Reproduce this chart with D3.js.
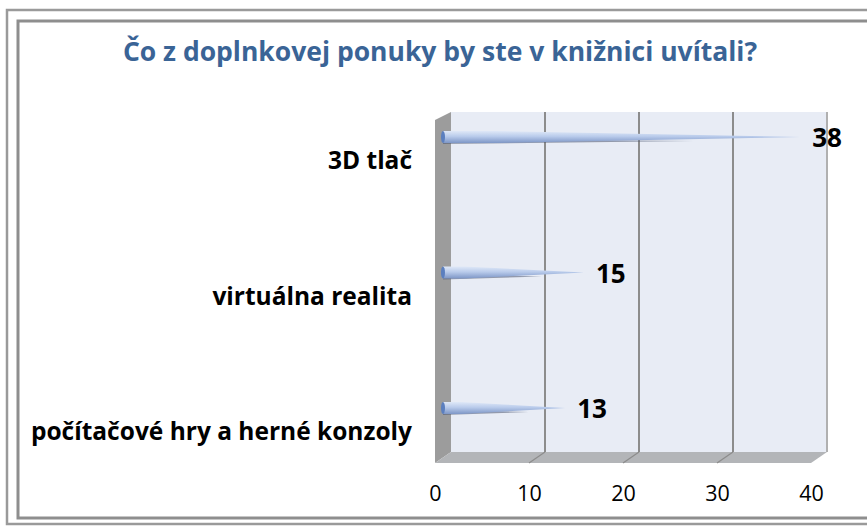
<!DOCTYPE html>
<html>
<head>
<meta charset="utf-8">
<script src="https://cdn.jsdelivr.net/npm/d3@7"></script>
<style>
  body { margin: 0; background: #fff; }
  svg text { font-family: "Open Sans", "Noto Sans", sans-serif; }
</style>
</head>
<body>
<div id="chart"></div>
<script>
// data
let categories = ["3D tlač", "virtuálna realita", "počítačové hry a herné konzoly"];
let values = [38, 15, 13];
let ticks = [0, 10, 20, 30, 40];
let title = "Čo z doplnkovej ponuky by ste v knižnici uvítali?";

let width = 867;
let height = 527;

let svg = d3.select("#chart").append("svg")
    .attr("width", width)
    .attr("height", height);

let defs = svg.append("defs");
let grad = defs.append("linearGradient")
    .attr("id", "barGrad")
    .attr("x1", 0).attr("y1", 0).attr("x2", 0).attr("y2", 1);
grad.append("stop").attr("offset", "0%").attr("stop-color", "#dfe8f7");
grad.append("stop").attr("offset", "45%").attr("stop-color", "#b9cbeb");
grad.append("stop").attr("offset", "100%").attr("stop-color", "#7d96c6");

// frame (double border)
svg.append("rect")
    .attr("x", 7).attr("y", 10)
    .attr("width", 900).attr("height", 514)
    .attr("fill", "none")
    .attr("stroke", "#9a9a9a")
    .attr("stroke-width", 2.5);
svg.append("rect")
    .attr("x", 18).attr("y", 21)
    .attr("width", 900).attr("height", 497)
    .attr("fill", "#fff")
    .attr("stroke", "#8e8e8e")
    .attr("stroke-width", 3);

// title
svg.append("text")
    .attr("x", 440).attr("y", 61)
    .attr("text-anchor", "middle")
    .style("font-size", "26.5px")
    .style("font-weight", "bold")
    .style("fill", "#3a6496")
    .text(title);

// 3d geometry: back wall scale and a front offset
let depthX = 16, depthY = 11;
let x = d3.scaleLinear().domain([0, 40]).range([451, 827]);
let wallTop = 112, wallBottom = 452;

// back wall
svg.append("rect")
    .attr("x", x(0)).attr("y", wallTop)
    .attr("width", x(40) - x(0)).attr("height", wallBottom - wallTop)
    .attr("fill", "#e8ecf5");

// left side wall
svg.append("path")
    .attr("d", d3.line()([
        [x(0) - depthX, wallTop + 8],
        [x(0), wallTop],
        [x(0), wallBottom],
        [x(0) - depthX, wallBottom + depthY]
    ]) + "Z")
    .attr("fill", "#9c9c9c");

// floor
svg.append("path")
    .attr("d", d3.line()([
        [x(0) - depthX, wallBottom + depthY],
        [x(0), wallBottom],
        [x(40), wallBottom],
        [x(40) - depthX, wallBottom + depthY]
    ]) + "Z")
    .attr("fill", "#b3b5b8");

// gridlines on wall and floor
svg.selectAll(".grid")
    .data(ticks.slice(1))
    .join("line")
    .attr("class", "grid")
    .attr("x1", d => x(d)).attr("x2", d => x(d))
    .attr("y1", wallTop).attr("y2", wallBottom)
    .attr("stroke", d => d === 40 ? "#b0b0b0" : "#8c8c8c")
    .attr("stroke-width", 2);
svg.selectAll(".floorline")
    .data(ticks.slice(1, 4))
    .join("line")
    .attr("class", "floorline")
    .attr("x1", d => x(d)).attr("x2", d => x(d) - depthX)
    .attr("y1", wallBottom).attr("y2", wallBottom + depthY)
    .attr("stroke", "#8c8c8c")
    .attr("stroke-width", 1.2);

// axis labels (front plane)
let xFront = d3.scaleLinear().domain([0, 40]).range([x(0) - depthX, x(40) - depthX]);
let axis = d3.axisBottom(xFront).tickValues(ticks).tickSize(0).tickPadding(0);
let axisG = svg.append("g")
    .attr("transform", "translate(0,486)")
    .call(axis);
axisG.select(".domain").remove();
axisG.selectAll("text")
    .style("font-size", "21.5px")
    .style("fill", "#000");

// category positions
let y = d3.scalePoint().domain(categories).range([137, 408]);
let xBar = d3.scaleLinear().domain([0, 40]).range([x(0) - depthX / 2, x(40) - depthX / 2]);

let bars = svg.selectAll(".bar")
    .data(categories)
    .join("g")
    .attr("class", "bar");

// shadow under the cone
bars.append("path")
    .attr("d", (d, i) => {
        let x0 = xBar(0), x1 = xBar(values[i]);
        let cy = y(d);
        return d3.line()([
            [x0, cy + 2], [x0 + (x1 - x0) * 0.7, cy + 4], [x0, cy + 7]
        ]) + "Z";
    })
    .attr("fill", "#4a5670")
    .attr("opacity", 0.55);

// cone
bars.append("path")
    .attr("d", (d, i) => {
        let x0 = xBar(0), x1 = xBar(values[i]);
        let cy = y(d);
        let w = x1 - x0;
        return d3.line()([
            [x0, cy - 6],
            [x0 + w * 0.15, cy - 6],
            [x0 + w * 0.5, cy - 3.5],
            [x1, cy],
            [x0 + w * 0.5, cy + 3.5],
            [x0 + w * 0.15, cy + 6],
            [x0, cy + 6]
        ]) + "Z";
    })
    .attr("fill", "url(#barGrad)");

// base of the cone
bars.append("ellipse")
    .attr("cx", xBar(0))
    .attr("cy", d => y(d))
    .attr("rx", 2).attr("ry", 6)
    .attr("fill", "#5b7fbf");

// value labels
bars.append("text")
    .attr("x", (d, i) => xBar(values[i]) + 12)
    .attr("y", d => y(d) + 10)
    .style("font-size", "26px")
    .style("font-weight", "bold")
    .style("fill", "#000")
    .text((d, i) => values[i]);

// category labels
svg.selectAll(".cat")
    .data(categories)
    .join("text")
    .attr("class", "cat")
    .attr("x", 412)
    .attr("y", d => y(d) + 32)
    .attr("text-anchor", "end")
    .style("font-size", "24.5px")
    .style("font-weight", "bold")
    .style("fill", "#000")
    .text(d => d);
</script>
</body>
</html>
